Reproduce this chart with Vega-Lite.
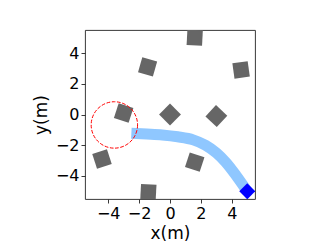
{
  "$schema": "https://vega.github.io/schema/vega-lite/v6.json",
  "width": 170,
  "height": 169,
  "autosize": {"type": "none"},
  "padding": {"left": 85, "top": 30, "right": 77, "bottom": 50},
  "background": "white",
  "config": {
    "view": {"stroke": "#222", "strokeWidth": 0.9},
    "font": "DejaVu Sans",
    "axis": {
      "grid": false,
      "domain": false,
      "ticks": true,
      "tickColor": "#222",
      "tickSize": 4,
      "tickWidth": 0.9,
      "labelFont": "DejaVu Sans",
      "labelFontSize": 16,
      "labelColor": "black",
      "labelPadding": 2,
      "titleFont": "DejaVu Sans",
      "titleFontSize": 17,
      "titleFontWeight": "normal",
      "titleColor": "black"
    }
  },
  "datasets": {
    "obstacles": [
      {"x": 1.6, "y": 5.0, "angle": 3},
      {"x": -1.45, "y": 3.1, "angle": 16},
      {"x": 4.6, "y": 2.9, "angle": -8},
      {"x": -3.0, "y": 0.1, "angle": 18},
      {"x": 0.0, "y": 0.0, "angle": 45},
      {"x": 3.0, "y": -0.1, "angle": 43},
      {"x": -4.4, "y": -2.9, "angle": -18},
      {"x": 1.6, "y": -3.1, "angle": 18},
      {"x": -1.4, "y": -5.05, "angle": 3}
    ],
    "path": [
      {"i": 0, "x": -2.5, "y": -1.22},
      {"i": 1, "x": -1.5, "y": -1.27},
      {"i": 2, "x": -0.5, "y": -1.33},
      {"i": 3, "x": 0.5, "y": -1.45},
      {"i": 4, "x": 1.5, "y": -1.65},
      {"i": 5, "x": 2.3, "y": -2.0},
      {"i": 6, "x": 3.0, "y": -2.5},
      {"i": 7, "x": 3.6, "y": -3.1},
      {"i": 8, "x": 4.3, "y": -4.0},
      {"i": 9, "x": 5.0, "y": -5.0}
    ],
    "circle": [{"x": -3.6, "y": -0.68}],
    "goal": [{"x": 5.0, "y": -5.0}]
  },
  "encoding": {
    "x": {
      "field": "x", "type": "quantitative",
      "scale": {"domain": [-5.5, 5.5], "nice": false, "zero": false},
      "axis": {"values": [-4, -2, 0, 2, 4], "title": "x(m)", "titlePadding": 4}
    },
    "y": {
      "field": "y", "type": "quantitative",
      "scale": {"domain": [-5.5, 5.5], "nice": false, "zero": false},
      "axis": {"values": [-4, -2, 0, 2, 4], "title": "y(m)", "titlePadding": 5}
    }
  },
  "layer": [
    {
      "data": {"name": "obstacles"},
      "mark": {"type": "point", "shape": "square", "filled": true, "size": 239, "color": "#666666", "opacity": 1, "clip": true},
      "encoding": {"angle": {"field": "angle", "type": "quantitative", "scale": null}}
    },
    {
      "data": {"name": "path"},
      "mark": {"type": "line", "color": "#8fc7ff", "strokeWidth": 11, "strokeCap": "butt", "interpolate": "monotone", "clip": true},
      "encoding": {"order": {"field": "i", "type": "quantitative"}}
    },
    {
      "data": {"name": "circle"},
      "mark": {"type": "point", "shape": "circle", "filled": false, "size": 2153, "stroke": "red", "strokeWidth": 1, "strokeDash": [3.7, 1.6], "opacity": 1, "clip": true}
    },
    {
      "data": {"name": "goal"},
      "mark": {"type": "point", "shape": "diamond", "filled": true, "size": 256, "color": "blue", "opacity": 1, "clip": true}
    }
  ]
}
